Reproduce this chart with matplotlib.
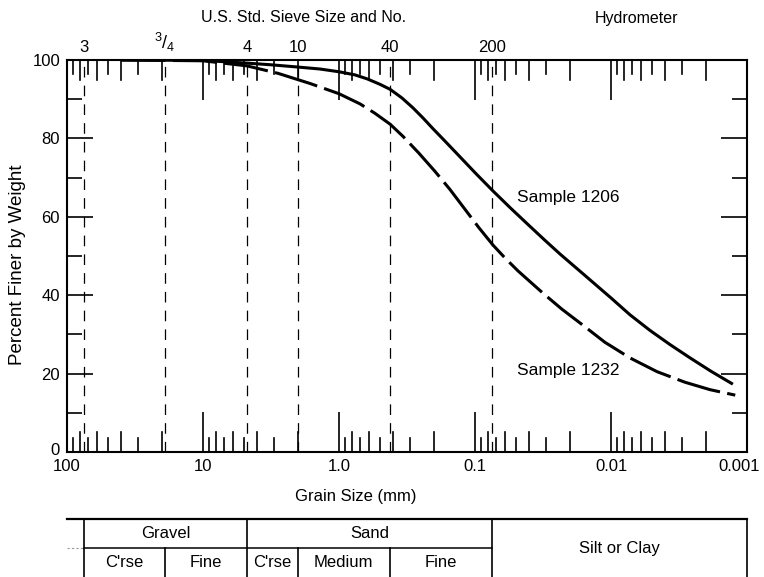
import numpy as np
import matplotlib
matplotlib.use('Agg')
import matplotlib.pyplot as plt
import matplotlib.transforms as mtransforms
from matplotlib.ticker import FixedLocator, NullFormatter

plt.rcParams['font.family'] = ['Liberation Sans', 'DejaVu Sans']
plt.rcParams['font.size'] = 12
plt.rcParams['mathtext.fontset'] = 'custom'
plt.rcParams['mathtext.rm'] = 'Liberation Sans'
plt.rcParams['mathtext.it'] = 'Liberation Sans'

# grain size (mm) vs percent finer
size_1206 = [40, 10, 4.75, 3.22, 2.0, 1.38, 1.0, 0.763, 0.622, 0.50, 0.42, 0.344,
             0.286, 0.241, 0.204, 0.163, 0.129, 0.0983, 0.0738, 0.0543, 0.0401,
             0.0306, 0.0237, 0.0155, 0.0100, 0.00725, 0.00516, 0.00368, 0.00262,
             0.00184, 0.00127]
finer_1206 = [100, 99.9, 99.2, 98.8, 98.2, 97.7, 97.0, 96.2, 95.2, 93.8, 92.5, 90.3,
              87.8, 85.2, 82.5, 79.0, 75.3, 71.0, 66.6, 62.1, 57.8,
              54.0, 50.5, 45.0, 39.3, 35.0, 31.0, 27.4, 24.0,
              20.6, 17.3]

size_1232 = [40, 10, 4.75, 2.81, 1.63, 1.0, 0.70, 0.544, 0.42, 0.338, 0.258, 0.197,
             0.153, 0.119, 0.0935, 0.0738, 0.0602, 0.0483, 0.0316, 0.0229, 0.0163,
             0.0111, 0.00725, 0.00459, 0.00286, 0.00187, 0.00122]
finer_1232 = [100, 99.8, 98.5, 96.6, 94.0, 91.4, 88.8, 86.4, 83.6, 80.5, 76.2, 71.6,
              67.0, 62.0, 57.2, 52.8, 49.5, 46.2, 40.5, 36.4, 32.5,
              28.0, 24.0, 20.5, 17.8, 15.9, 14.5]

# US standard sieves
sieve_labels = ['3', r'$^3/_4$', '4', '10', '40', '200']
sieve_mm = [75, 19, 4.75, 2.0, 0.425, 0.075]

# x axis
decades = [100, 10, 1, 0.1, 0.01, 0.001]
decade_labels = ['100', '10', '1.0', '0.1', '0.01', '0.001']

# soil classification strip
class_top = ['Gravel', 'Sand']
class_top_edges = [(75, 4.75), (4.75, 0.075)]
class_bottom = ["C'rse", 'Fine', "C'rse", 'Medium', 'Fine']
class_bottom_edges = [(75, 19), (19, 4.75), (4.75, 2.0), (2.0, 0.425), (0.425, 0.075)]

W, H = 764, 577
fig = plt.figure(figsize=(W / 100, H / 100), dpi=100)
ax = fig.add_axes([67 / W, 125 / H, 680 / W, 392 / H])
ax_h = 392

ax.set_xscale('log')
ax.set_xlim(100, 0.001)
ax.set_ylim(0, 100)
for s in ax.spines.values():
    s.set_linewidth(1.5)

# sieve lines
for d in sieve_mm:
    ax.axvline(d, color='black', lw=0.9, ls=(0, (8.5, 6.5)))

ax.plot(size_1206, finer_1206, color='black', lw=2.2, solid_capstyle='butt',
        solid_joinstyle='round')
ax.plot(size_1232, finer_1232, color='black', lw=2.2, ls=(0, (14.5, 2.4)),
        dash_capstyle='butt', dash_joinstyle='round')

# ticks
ax.xaxis.set_major_locator(FixedLocator(decades))
ax.set_xticklabels(decade_labels)
ax.xaxis.set_minor_locator(FixedLocator([]))
ax.xaxis.set_minor_formatter(NullFormatter())
ax.tick_params(axis='x', which='major', direction='in', length=28.8, width=1.2,
               top=True, bottom=True, pad=5)
ax.set_yticks([0, 20, 40, 60, 80, 100])
ax.yaxis.set_minor_locator(FixedLocator([10, 30, 50, 70, 90]))
ax.tick_params(axis='y', which='major', direction='in', length=18.7, width=1.2,
               left=True, right=True, pad=5)
ax.tick_params(axis='y', which='minor', direction='in', length=11, width=1.2,
               left=True, right=True)

# keep the last x label inside the figure, lift the y "0" off the "100"
last = ax.get_xticklabels()[-1]
last.set_transform(last.get_transform() +
                   mtransforms.ScaledTranslation(-8 / 100, 0, fig.dpi_scale_trans))
zero = ax.get_yticklabels()[0]
zero.set_transform(zero.get_transform() +
                   mtransforms.ScaledTranslation(0, 3 / 100, fig.dpi_scale_trans))

# log minor ticks of two lengths, top and bottom
xt = ax.get_xaxis_transform()
for dec in decades[1:]:
    for m in range(2, 10):
        frac = (20 if m % 2 == 0 else 14) / ax_h
        ax.plot([dec * m, dec * m], [0, frac], color='black', lw=1.2,
                transform=xt, clip_on=False)
        ax.plot([dec * m, dec * m], [1 - frac, 1], color='black', lw=1.2,
                transform=xt, clip_on=False)

# sieve numbers above the plot
for lab, d in zip(sieve_labels, sieve_mm):
    frac_lab = '/' in lab
    ax.text(d, 1.046 if frac_lab else 1.031, lab, transform=xt, ha='center',
            va='center', fontsize=13 if frac_lab else 12)

fig.text(304 / W, 1 - 18 / H, 'U.S. Std. Sieve Size and No.', ha='center',
         va='center', fontsize=11.5)
fig.text(637 / W, 1 - 19 / H, 'Hydrometer', ha='center', va='center', fontsize=11.5)
fig.text(18 / W, 1 - 265 / H, 'Percent Finer by Weight', rotation=90,
         ha='center', va='center', fontsize=13.5)
fig.text(356 / W, 1 - 497 / H, 'Grain Size (mm)', ha='center', va='center')

ax.text(0.049, 64.8, 'Sample 1206', ha='left', va='center', fontsize=12.5)
ax.text(0.049, 20.9, 'Sample 1232', ha='left', va='center', fontsize=12.5)

# classification table under the chart
tb = fig.add_axes([67 / W, 0, 680 / W, 58 / H])
tb.set_xscale('log')
tb.set_xlim(100, 0.001)
tb.set_ylim(0, 2)
tb.axis('off')
tb.plot([100, 0.001], [2, 2], color='black', lw=1.6, clip_on=False)
tb.plot([75, 0.075], [1, 1], color='black', lw=1.1, clip_on=False)
tb.plot([100, 75], [1, 1], color='0.6', lw=0.8, ls=(0, (2, 2)), clip_on=False)
for d in [75, 4.75, 0.075, 0.001]:
    tb.plot([d, d], [0, 2], color='black', lw=1.2, clip_on=False)
for d in [19, 2.0, 0.425]:
    tb.plot([d, d], [0, 1], color='black', lw=1.2, clip_on=False)
for lab, (a, b) in zip(class_top, class_top_edges):
    tb.text(np.sqrt(a * b), 1.5, lab, ha='center', va='center')
for lab, (a, b) in zip(class_bottom, class_bottom_edges):
    tb.text(np.sqrt(a * b), 0.5, lab, ha='center', va='center')
tb.text(np.sqrt(0.075 * 0.001), 1.0, 'Silt or Clay', ha='center', va='center')

fig.savefig('out.png', dpi=100)
